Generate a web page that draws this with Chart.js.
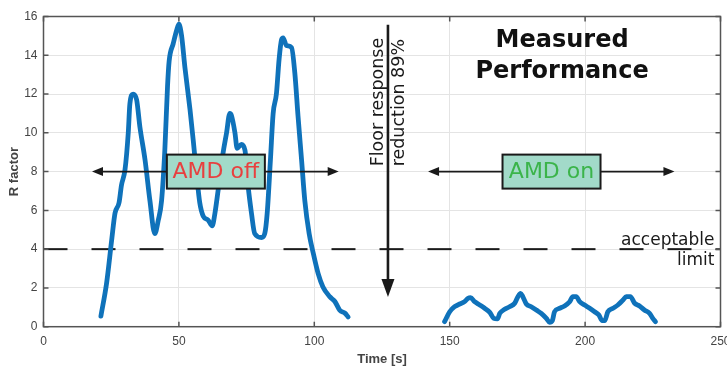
<!DOCTYPE html>
<html><head><meta charset="utf-8">
<script src="https://cdn.jsdelivr.net/npm/chart.js@4/dist/chart.umd.min.js"></script>
<style>html,body{margin:0;padding:0;background:#fff}#c{display:block}</style>
</head><body>
<canvas id="c" width="727" height="367"></canvas>
<script>
// ---- data ----
const offTime = [21.2,23.3,25.2,26.4,27.9,28.8,30.1,31.3,31.9,33.1,34.4,35.6,37.5,39.3,41.1,42.4,43.6,44.8,45.8,46.4,47.9,49.2,50.0,51.0,52.2,54.1,55.3,56.5,57.7,59.0,60.8,62.3,63.3,64.5,66.3,67.6,68.8,69.4,70.7,71.5,73.1,74.4,75.6,76.8,78.0,80.5,81.7,82.6,83.8,84.8,86.0,87.0,87.9,88.5,89.7,91.6,92.8,94.0,95.3,96.5,98.1,99.6,101.4,103.2,105.7,107.6,109.4,111.3,112.5];
const offR = [0.55,2.25,4.5,5.85,6.4,7.3,8.1,10.0,11.5,12.0,11.7,10.3,8.6,6.5,4.8,5.5,6.5,9.1,12.4,13.7,14.6,15.3,15.6,15.0,13.4,11.2,9.6,7.9,6.4,5.7,5.5,5.2,5.85,7.05,8.95,10.0,11.0,10.9,10.0,9.2,9.4,9.1,7.2,5.85,4.8,4.6,4.8,5.85,8.6,11.0,12.0,13.8,14.8,14.9,14.5,14.4,13.1,10.85,8.6,6.5,4.8,3.8,2.75,2.05,1.55,1.3,0.85,0.7,0.5];
const onTime = [148.1,150.0,151.8,153.7,155.5,156.8,157.7,159.2,161.1,162.9,164.8,166.3,167.6,168.5,170.3,172.1,174.0,175.2,176.2,177.0,178.3,180.1,182.0,183.8,185.7,186.9,187.9,188.7,190.6,192.4,194.3,195.5,196.7,198.0,199.8,201.7,203.5,205.1,206.3,207.2,208.4,210.3,212.1,214.0,215.2,216.7,218.3,220.1,221.9,223.8,225.0,226.0];
const onR = [0.26,0.77,1.03,1.17,1.29,1.47,1.5,1.29,1.12,0.95,0.74,0.43,0.4,0.69,0.9,1.03,1.21,1.55,1.72,1.55,1.17,1.03,0.86,0.69,0.43,0.22,0.31,0.77,0.95,1.07,1.29,1.55,1.55,1.29,1.12,0.95,0.77,0.6,0.31,0.31,0.77,0.95,1.12,1.38,1.55,1.55,1.21,1.07,0.86,0.69,0.43,0.26];
const limitTime = [0, 250];
const limitR = [4, 4];
const xTicks = [0, 50, 100, 150, 200, 250];
const yTicks = [0, 2, 4, 6, 8, 10, 12, 14, 16];
const xTitle = 'Time [s]';
const yTitle = 'R factor';
const titleLines = ['Measured', 'Performance'];
const offLabel = 'AMD off';
const onLabel = 'AMD on';
const offArrow = [17.9, 109.0];   // time span of the AMD off arrow
const onArrow = [142.0, 233.0];   // time span of the AMD on arrow
const arrowLevel = 8;
const offBoxTime = 63.65;
const onBoxTime = 187.6;
const dropTime = 127.2;
const dropFromTo = [15.57, 1.53];
const dropLines = ['Floor response', 'reduction 89%'];
const limitLines = ['acceptable', 'limit'];

const toPts = (xs, ys) => xs.map((x, i) => ({x, y: ys[i]}));

const BLUE = '#0f72ba';
const AX = '#555555';

const annot = {
  id: 'annot',
  afterDatasetsDraw(chart) {
    const {ctx, chartArea: ca, scales: {x, y}} = chart;
    ctx.save();
    // arrows
    function hArrow(x0, x1, yv) {
      const px0 = x.getPixelForValue(x0), px1 = x.getPixelForValue(x1), py = y.getPixelForValue(yv);
      ctx.strokeStyle = '#1a1a1a'; ctx.fillStyle = '#1a1a1a'; ctx.lineWidth = 1.6;
      ctx.beginPath(); ctx.moveTo(px0 + 6, py); ctx.lineTo(px1 - 6, py); ctx.stroke();
      ctx.beginPath(); ctx.moveTo(px0, py); ctx.lineTo(px0 + 11, py - 4.5); ctx.lineTo(px0 + 11, py + 4.5); ctx.closePath(); ctx.fill();
      ctx.beginPath(); ctx.moveTo(px1, py); ctx.lineTo(px1 - 11, py - 4.5); ctx.lineTo(px1 - 11, py + 4.5); ctx.closePath(); ctx.fill();
    }
    hArrow(offArrow[0], offArrow[1], arrowLevel);
    hArrow(onArrow[0], onArrow[1], arrowLevel);
    function box(tv, label, color) {
      const cx = x.getPixelForValue(tv), cy = y.getPixelForValue(arrowLevel);
      const w = 98, h = 34;
      ctx.fillStyle = '#a2dac9';
      ctx.fillRect(cx - w / 2, cy - h / 2, w, h);
      ctx.strokeStyle = '#1a1a1a'; ctx.lineWidth = 2;
      ctx.strokeRect(cx - w / 2, cy - h / 2, w, h);
      ctx.fillStyle = color;
      ctx.font = '22px "DejaVu Sans"';
      ctx.textAlign = 'center'; ctx.textBaseline = 'middle';
      ctx.fillText(label, cx, cy + 1);
    }
    box(offBoxTime, offLabel, '#e8403f');
    box(onBoxTime, onLabel, '#3bb44a');
    // vertical arrow
    const vx = x.getPixelForValue(dropTime);
    const vy0 = y.getPixelForValue(dropFromTo[0]), vy1 = y.getPixelForValue(dropFromTo[1]);
    ctx.strokeStyle = '#1a1a1a'; ctx.fillStyle = '#1a1a1a'; ctx.lineWidth = 2.6;
    ctx.beginPath(); ctx.moveTo(vx, vy0); ctx.lineTo(vx, vy1 - 10); ctx.stroke();
    ctx.beginPath(); ctx.moveTo(vx, vy1); ctx.lineTo(vx - 6.5, vy1 - 18); ctx.lineTo(vx + 6.5, vy1 - 18); ctx.closePath(); ctx.fill();
    // rotated text (reads bottom to top)
    ctx.save();
    ctx.translate(vx, y.getPixelForValue(8.27));
    ctx.rotate(-Math.PI / 2);
    ctx.fillStyle = '#1a1a1a';
    ctx.font = '17.5px "DejaVu Sans"';
    ctx.textAlign = 'left'; ctx.textBaseline = 'alphabetic';
    ctx.fillText(dropLines[0], 0, -5);
    ctx.fillText(dropLines[1], 0, 16);
    ctx.restore();
    // title
    ctx.fillStyle = '#111';
    ctx.font = 'bold 24px "DejaVu Sans"';
    ctx.textAlign = 'center'; ctx.textBaseline = 'alphabetic';
    const tx = x.getPixelForValue(191.5);
    ctx.fillText(titleLines[0], tx, y.getPixelForValue(14.45));
    ctx.fillText(titleLines[1], tx, y.getPixelForValue(12.82));
    // limit text
    ctx.font = '17px "DejaVu Sans"';
    ctx.textAlign = 'right'; ctx.fillStyle = '#1a1a1a';
    const lx = ca.right - 6;
    ctx.fillText(limitLines[0], lx, y.getPixelForValue(4) - 4);
    ctx.fillText(limitLines[1], lx, y.getPixelForValue(4) + 16);
    // axes box + inside ticks
    ctx.strokeStyle = AX; ctx.lineWidth = 1.5;
    ctx.strokeRect(ca.left, ca.top, ca.right - ca.left, ca.bottom - ca.top);
    ctx.beginPath();
    xTicks.forEach(v => {
      const p = x.getPixelForValue(v);
      ctx.moveTo(p, ca.bottom); ctx.lineTo(p, ca.bottom - 5);
      ctx.moveTo(p, ca.top); ctx.lineTo(p, ca.top + 5);
    });
    yTicks.forEach(v => {
      const p = y.getPixelForValue(v);
      ctx.moveTo(ca.left, p); ctx.lineTo(ca.left + 5, p);
      ctx.moveTo(ca.right, p); ctx.lineTo(ca.right - 5, p);
    });
    ctx.stroke();
    ctx.restore();
  }
};

function zeroPad(s) { s.paddingLeft = 0; s.paddingRight = 0; s.paddingTop = 0; s.paddingBottom = 0; }

new Chart(document.getElementById('c'), {
  type: 'line',
  data: {
    datasets: [
      { data: toPts(offTime, offR), borderColor: BLUE, borderWidth: 4.8, pointRadius: 0, cubicInterpolationMode: 'monotone', borderJoinStyle: 'round', borderCapStyle: 'round' },
      { data: toPts(onTime, onR), borderColor: BLUE, borderWidth: 4.8, pointRadius: 0, cubicInterpolationMode: 'monotone', borderJoinStyle: 'round', borderCapStyle: 'round' },
      { data: toPts(limitTime, limitR), borderColor: '#1a1a1a', borderWidth: 2, borderDash: [24, 24], pointRadius: 0 }
    ]
  },
  options: {
    responsive: false,
    animation: false,
    devicePixelRatio: 1,
    layout: { padding: { top: 16.5, right: 6.5, left: 0, bottom: 0 } },
    plugins: { legend: { display: false }, tooltip: { enabled: false } },
    scales: {
      x: {
        type: 'linear', min: 0, max: 250,
        afterBuildTicks: s => { s.ticks = xTicks.map(v => ({value: v})); },
        afterFit: s => { s.height = 40.3; zeroPad(s); },
        ticks: { padding: 8, color: '#444', font: { family: '"Liberation Sans", Arial', size: 12 } },
        grid: { color: '#e4e4e4', lineWidth: 1, drawTicks: false },
        border: { display: false },
        title: { display: true, text: xTitle, color: '#444', font: { family: '"Liberation Sans", Arial', size: 13, weight: 'bold' }, padding: { top: 0, bottom: 0 } }
      },
      y: {
        type: 'linear', min: 0, max: 16,
        afterBuildTicks: s => { s.ticks = yTicks.map(v => ({value: v})); },
        afterFit: s => { s.width = 43.5; zeroPad(s); },
        ticks: { padding: 6, color: '#444', font: { family: '"Liberation Sans", Arial', size: 12 } },
        grid: { color: '#e4e4e4', lineWidth: 1, drawTicks: false },
        border: { display: false },
        title: { display: true, text: yTitle, color: '#444', font: { family: '"Liberation Sans", Arial', size: 13, weight: 'bold' }, padding: { top: 6.5, bottom: 0 } }
      }
    }
  },
  plugins: [annot]
});
</script>
</body></html>
